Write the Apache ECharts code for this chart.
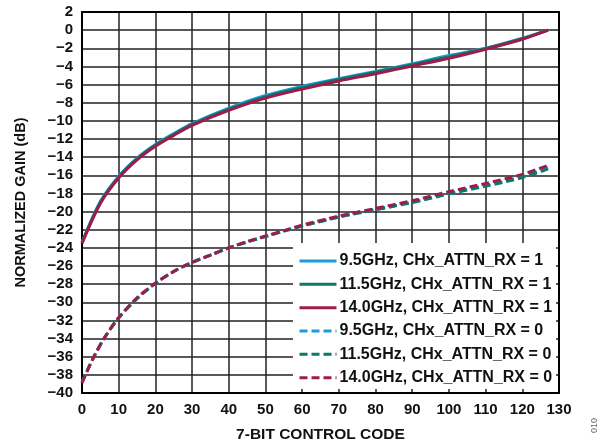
<!DOCTYPE html>
<html><head><meta charset="utf-8">
<script src="https://cdn.jsdelivr.net/npm/echarts@6/dist/echarts.min.js"></script>
<style>html,body{margin:0;padding:0;background:#fff}#c{width:605px;height:448px}</style>
</head><body><div id="c"></div>
<script>
// Control codes (x values)
const codesUpper = [0, 5, 10, 15, 20, 25, 30, 40, 50, 60, 70, 80, 90, 100, 110, 120, 127];
const codesLower = [0, 3, 6, 10, 15, 20, 25, 30, 35, 40, 45, 50, 55, 60, 70, 80, 90, 100, 110, 120, 127];

// CHx_ATTN_RX = 1
const g95_rx1  = [-23.4, -18.9, -16.1, -14.1, -12.6, -11.4, -10.3, -8.6, -7.2, -6.2, -5.35, -4.55, -3.7, -2.8, -2.0, -0.9, 0];
const g115_rx1 = [-23.45, -19.0, -16.2, -14.2, -12.7, -11.5, -10.4, -8.7, -7.35, -6.35, -5.45, -4.65, -3.8, -2.95, -2.05, -0.95, 0];
const g140_rx1 = [-23.5, -19.1, -16.3, -14.3, -12.8, -11.6, -10.5, -8.85, -7.5, -6.5, -5.6, -4.8, -3.95, -3.1, -2.1, -1.0, 0];

// CHx_ATTN_RX = 0
const g95_rx0  = [-38.8, -36.2, -34.0, -31.7, -29.6, -27.9, -26.6, -25.6, -24.8, -24.0, -23.35, -22.75, -22.15, -21.6, -20.6, -19.75, -18.95, -18.0, -17.1, -16.15, -15.15];
const g115_rx0 = [-38.8, -36.2, -34.0, -31.7, -29.6, -27.9, -26.6, -25.6, -24.8, -24.0, -23.35, -22.75, -22.15, -21.6, -20.6, -19.8, -19.0, -18.05, -17.2, -16.25, -15.3];
const g140_rx0 = [-38.9, -36.2, -34.0, -31.7, -29.5, -27.9, -26.6, -25.6, -24.8, -24.0, -23.3, -22.7, -22.1, -21.5, -20.5, -19.65, -18.8, -17.8, -16.9, -15.9, -14.9];

const seriesNames = [
  '9.5GHz, CHx_ATTN_RX = 1', '11.5GHz, CHx_ATTN_RX = 1', '14.0GHz, CHx_ATTN_RX = 1',
  '9.5GHz, CHx_ATTN_RX = 0', '11.5GHz, CHx_ATTN_RX = 0', '14.0GHz, CHx_ATTN_RX = 0'
];
const xTicks = { min: 0, max: 130, step: 10 };
const yTicks = { min: -40, max: 2, step: 2 };

const BLUE = '#1B9ED8', TEAL = '#0B786D', RED = '#9C1C4A';
const FONT = '"Liberation Sans", Arial, sans-serif';

function pairs(xs, ys) { return xs.map((x, i) => [x, ys[i]]); }
function mk(name, xs, ys, color, dashed) {
  return {
    name, type: 'line', data: pairs(xs, ys), smooth: 0.3, symbol: 'none', showSymbol: false,
    xAxisIndex: 0, yAxisIndex: 0,
    lineStyle: { color, width: 3, type: dashed ? [8, 4] : 'solid' },
    itemStyle: { color }, emphasis: { disabled: true }
  };
}
const fmtY = v => v < 0 ? '\u2212' + Math.abs(v) : String(v);

const chart = echarts.init(document.getElementById('c'), null, { renderer: 'canvas' });
chart.setOption({
  animation: false,
  backgroundColor: '#fff',
  grid: { left: 82, right: 46, top: 12, bottom: 55, containLabel: false },
  xAxis: [{
    type: 'value', min: xTicks.min, max: xTicks.max, interval: xTicks.step, position: 'bottom',
    name: '7-BIT CONTROL CODE', nameLocation: 'middle', nameGap: 34,
    nameTextStyle: { fontFamily: FONT, fontWeight: 'bold', fontSize: 15.5, color: '#111' },
    axisLine: { show: true, onZero: false, lineStyle: { color: '#000', width: 2 } },
    axisTick: { show: false },
    axisLabel: { fontFamily: FONT, fontWeight: 'bold', fontSize: 15, color: '#111', margin: 9 },
    splitLine: { show: true, lineStyle: { color: '#222', width: 1.5 } }
  }, {
    type: 'value', min: xTicks.min, max: xTicks.max, interval: xTicks.step, position: 'top',
    axisLine: { show: true, onZero: false, lineStyle: { color: '#000', width: 2 } },
    axisTick: { show: false }, axisLabel: { show: false }, splitLine: { show: false }
  }],
  yAxis: [{
    type: 'value', min: yTicks.min, max: yTicks.max, interval: yTicks.step, position: 'left',
    name: 'NORMALIZED GAIN (dB)', nameLocation: 'middle', nameGap: 54, nameRotate: 90,
    nameTextStyle: { fontFamily: FONT, fontWeight: 'bold', fontSize: 14.5, color: '#111' },
    axisLine: { show: true, onZero: false, lineStyle: { color: '#000', width: 2 } },
    axisTick: { show: false },
    axisLabel: { fontFamily: FONT, fontWeight: 'bold', fontSize: 15, color: '#111', margin: 9, formatter: fmtY },
    splitLine: { show: true, lineStyle: { color: '#222', width: 1.5 } }
  }, {
    type: 'value', min: yTicks.min, max: yTicks.max, interval: yTicks.step, position: 'right',
    axisLine: { show: true, onZero: false, lineStyle: { color: '#000', width: 2 } },
    axisTick: { show: false }, axisLabel: { show: false }, splitLine: { show: false }
  }],
  graphic: [
    { type: 'rect', z: 1, shape: { x: 293, y: 243, width: 263, height: 146 }, style: { fill: '#fff' }, silent: true },
    { type: 'text', x: 590, y: 433, rotation: Math.PI / 2, style: { text: '010', fill: '#666', font: '9px ' + FONT } }
  ],
  legend: {
    orient: 'vertical', left: 293, top: 243, padding: [10, 4, 4, 5],
    itemWidth: 37, itemHeight: 16, itemGap: 7.33,
    backgroundColor: 'transparent',
    itemStyle: { opacity: 0 },
    lineStyle: { width: 3 },
    textStyle: { fontFamily: FONT, fontWeight: 'bold', fontSize: 16, color: '#111', padding: [0, 0, 0, -2] },
    data: seriesNames
  },
  series: [
    mk(seriesNames[0], codesUpper, g95_rx1, BLUE, false),
    mk(seriesNames[1], codesUpper, g115_rx1, TEAL, false),
    mk(seriesNames[2], codesUpper, g140_rx1, RED, false),
    mk(seriesNames[3], codesLower, g95_rx0, BLUE, true),
    mk(seriesNames[4], codesLower, g115_rx0, TEAL, true),
    mk(seriesNames[5], codesLower, g140_rx0, RED, true)
  ]
});
</script></body></html>
